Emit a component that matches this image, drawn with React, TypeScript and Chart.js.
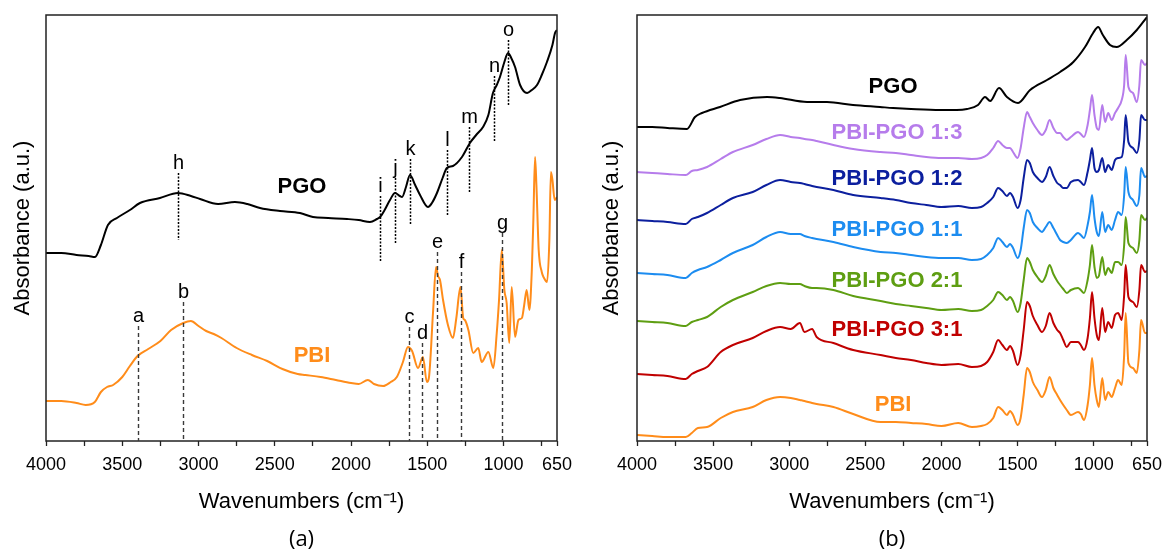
import React, { useEffect, useRef } from 'react';
import { Chart, registerables } from 'chart.js';

Chart.register(...registerables);

const FONT = '"Liberation Sans", Arial, sans-serif';
const CAPTION_FONT = '"Open Sans", "Liberation Sans", sans-serif';

// ---------- shared axis ----------
const X_TICKS = [4000, 3750, 3500, 3250, 3000, 2750, 2500, 2250, 2000, 1750, 1500, 1250, 1000, 750, 650];
const X_TICK_LABELS = [4000, 3500, 3000, 2500, 2000, 1500, 1000, 650];

// ---------- panel (a) ----------
const A_PGO_WN = [4000, 3900, 3800, 3720, 3679, 3640, 3594, 3535, 3450, 3384, 3253, 3135, 3050, 2990, 2872, 2761, 2680, 2597, 2466, 2335, 2250, 2150, 2027, 1950, 1876, 1830, 1810, 1780, 1745, 1712, 1680, 1666, 1640, 1614, 1580, 1548, 1496, 1470, 1437, 1400, 1372, 1332, 1273, 1221, 1180, 1135, 1100, 1070, 1045, 1024, 995, 971, 950, 925, 892, 846, 815, 781, 750, 716, 680, 663, 650];
const A_PGO_ABS = [188, 188, 186, 185, 184, 196, 216, 223, 231, 238, 243, 248, 245, 242, 237, 239, 237, 233, 230, 228, 224, 223, 222, 221, 219, 222, 224, 231, 241, 248, 245, 244, 254, 266, 256, 246, 234, 238, 248, 263, 273, 275, 284, 298, 306, 314, 326, 348, 356, 364, 379, 388, 383, 374, 356, 348, 351, 356, 366, 379, 396, 408, 411];

const A_PBI_WN = [4000, 3900, 3800, 3740, 3680, 3640, 3600, 3560, 3500, 3450, 3400, 3330, 3250, 3180, 3100, 3050, 3000, 2950, 2900, 2850, 2750, 2650, 2550, 2450, 2350, 2300, 2200, 2100, 2000, 1950, 1890, 1850, 1790, 1740, 1700, 1660, 1627, 1600, 1561, 1529, 1503, 1490, 1463, 1443, 1430, 1417, 1397, 1365, 1332, 1310, 1283, 1265, 1254, 1231, 1199, 1166, 1144, 1100, 1067, 1045, 1030, 1012, 995, 980, 963, 947, 925, 903, 880, 865, 849, 831, 815, 805, 794, 785, 770, 750, 735, 715, 700, 690, 680, 665, 650];
const A_PBI_ABS = [40, 40, 38, 36, 39, 49, 54, 56, 64, 75, 85, 92, 100, 111, 118, 120, 115, 110, 107, 103, 93, 86, 80, 72, 67, 66, 64, 61, 58, 57, 61, 57, 55, 59, 64, 79, 94, 90, 73, 84, 59, 63, 128, 174, 165, 161, 141, 116, 103, 123, 154, 123, 121, 111, 88, 93, 79, 89, 73, 108, 141, 191, 151, 138, 98, 154, 104, 121, 123, 136, 151, 131, 171, 221, 284, 256, 191, 169, 163, 159, 201, 269, 261, 241, 244];

const A_PBI_MARK_WN = [3400, 3100, 1618, 1533, 1435, 1281, 1012];
const A_PBI_MARK_LABEL = ['a', 'b', 'c', 'd', 'e', 'f', 'g'];
const A_PBI_MARK_TOP = [115, 139, 114, 98, 189, 169, 208];

const A_PGO_MARK_WN = [3135, 1810, 1712, 1614, 1371, 1227, 1063, 971];
const A_PGO_MARK_LABEL = ['h', 'i', 'j', 'k', 'l', 'm', 'n', 'o'];
const A_PGO_MARK_TOP = [268, 245, 263, 282, 291, 314, 365, 401];
const A_PGO_MARK_BOTTOM = [201, 180, 198, 217, 225, 248, 299, 335];

const A_LABELS = ['PGO', 'PBI'];
const A_LABEL_WN = [2322, 2256];
const A_LABEL_ABS = [254, 85];

// ---------- panel (b) ----------
const B_PGO_WN = [4000, 3900, 3800, 3672, 3619, 3573, 3455, 3323, 3146, 3061, 2883, 2752, 2581, 2404, 2318, 2200, 2009, 1900, 1832, 1760, 1714, 1680, 1622, 1570, 1497, 1418, 1307, 1221, 1134, 1057, 1004, 971, 940, 893, 849, 783, 717, 650];
const B_PGO_ABS = [314, 314, 313, 312, 324, 328, 334, 341, 344, 343, 339, 339, 336, 334, 333, 332, 331, 331, 332, 336, 344, 340, 353, 344, 338, 351, 361, 369, 379, 394, 408, 414, 406, 396, 394, 401, 411, 424];

const B_WN = [4000, 3900, 3800, 3680, 3640, 3600, 3540, 3450, 3370, 3240, 3150, 3060, 2990, 2930, 2900, 2850, 2820, 2710, 2580, 2400, 2300, 2200, 2100, 2000, 1890, 1800, 1740, 1700, 1660, 1628, 1600, 1570, 1550, 1530, 1500, 1480, 1460, 1438, 1420, 1400, 1370, 1340, 1315, 1290, 1265, 1240, 1221, 1200, 1177, 1150, 1103, 1085, 1064, 1040, 1025, 1011, 995, 980, 966, 944, 925, 905, 882, 860, 840, 816, 800, 790, 772, 742, 717, 700, 689, 663, 650];
const B_PBI = [6, 5, 4, 4, 8, 13, 14, 23, 29, 34, 41, 44, 43, 41, 40, 38, 37, 34, 27, 19, 19, 18, 17, 15, 18, 14, 15, 17, 23, 34, 31, 26, 30, 26, 16, 23, 46, 73, 69, 59, 51, 44, 51, 64, 53, 46, 41, 36, 31, 26, 29, 27, 21, 36, 56, 83, 56, 41, 34, 63, 41, 49, 44, 53, 61, 56, 86, 128, 78, 73, 68, 91, 121, 108, 108];
const B_31 = [67, 66, 65, 62, 67, 70, 74, 89, 96, 103, 110, 114, 112, 118, 109, 112, 104, 98, 91, 86, 83, 81, 78, 76, 77, 74, 75, 79, 89, 101, 96, 91, 95, 90, 76, 86, 111, 139, 135, 125, 116, 109, 115, 128, 118, 111, 108, 101, 94, 99, 99, 96, 91, 103, 123, 149, 123, 106, 101, 133, 109, 119, 113, 126, 128, 121, 146, 176, 144, 139, 134, 151, 176, 169, 170];
const B_21 = [120, 119, 118, 115, 119, 121, 124, 134, 141, 149, 155, 158, 157, 157, 155, 153, 153, 151, 145, 140, 137, 135, 133, 131, 132, 130, 131, 135, 141, 149, 146, 141, 144, 140, 129, 138, 161, 183, 179, 171, 164, 159, 165, 176, 167, 160, 156, 152, 148, 151, 153, 151, 148, 161, 176, 196, 174, 163, 165, 184, 166, 173, 168, 179, 179, 176, 196, 224, 198, 193, 188, 201, 226, 221, 223];
const B_11 = [168, 167, 166, 163, 168, 171, 174, 181, 188, 196, 204, 209, 207, 207, 205, 203, 202, 199, 194, 189, 188, 186, 184, 183, 183, 181, 182, 186, 193, 203, 199, 194, 197, 193, 183, 191, 213, 231, 228, 219, 213, 209, 214, 219, 213, 206, 201, 199, 198, 201, 208, 206, 203, 216, 229, 246, 223, 209, 205, 229, 209, 216, 211, 221, 229, 226, 246, 274, 249, 241, 235, 246, 273, 264, 265];
const B_12 = [221, 220, 219, 217, 222, 224, 228, 236, 243, 249, 256, 261, 259, 258, 257, 255, 254, 251, 246, 243, 241, 238, 236, 234, 235, 233, 234, 238, 244, 253, 250, 245, 248, 244, 233, 241, 263, 281, 278, 269, 263, 259, 264, 274, 265, 258, 256, 253, 253, 259, 261, 259, 256, 269, 281, 293, 273, 269, 271, 283, 269, 276, 271, 281, 283, 284, 301, 326, 299, 293, 288, 301, 326, 321, 321];
const B_13 = [269, 268, 267, 266, 270, 271, 274, 282, 289, 296, 302, 306, 304, 303, 302, 301, 300, 296, 292, 289, 288, 286, 284, 283, 283, 282, 283, 286, 293, 300, 296, 293, 293, 289, 283, 293, 313, 329, 324, 318, 311, 306, 311, 321, 313, 308, 308, 304, 301, 304, 309, 307, 304, 316, 331, 346, 326, 313, 311, 336, 319, 328, 321, 328, 333, 341, 356, 386, 354, 348, 339, 356, 381, 376, 378];

const B_LABELS = ['PGO', 'PBI-PGO 1:3', 'PBI-PGO 1:2', 'PBI-PGO 1:1', 'PBI-PGO 2:1', 'PBI-PGO 3:1', 'PBI'];
const B_LABEL_WN = [2318, 2292, 2292, 2292, 2292, 2292, 2318];
const B_LABEL_ABS = [354, 308, 262, 211, 160, 111, 36];

const COLORS = {
  PGO: '#000000',
  PBI: '#FF8C1A',
  r31: '#C00000',
  r21: '#5E9E12',
  r11: '#1C8CF0',
  r12: '#0C1F9E',
  r13: '#B67CEB',
};
const B_LABEL_COLORS = [COLORS.PGO, COLORS.r13, COLORS.r12, COLORS.r11, COLORS.r21, COLORS.r31, COLORS.PBI];

const pts = (wn: number[], ab: number[]) => wn.map((w, i) => ({ x: w, y: ab[i] }));

type Marker = { wn: number; label: string; top: number; bottom: number; dash: number[]; color: string; width: number };
type Label = { text: string; wn: number; ab: number; color: string };

function annotPlugin(markers: Marker[], labels: Label[], caption: string) {
  return {
    id: 'annot',
    afterDatasetsDraw(chart: any) {
      const { ctx, chartArea, scales } = chart;
      const x = scales.x;
      const y = scales.y;
      ctx.save();
      ctx.setLineDash([]);
      ctx.strokeStyle = '#222';
      ctx.lineWidth = 1.5;
      ctx.strokeRect(chartArea.left, chartArea.top, chartArea.right - chartArea.left, chartArea.bottom - chartArea.top);
      for (const m of markers) {
        const px = Math.round(x.getPixelForValue(m.wn)) + 0.5;
        const top = y.getPixelForValue(m.top);
        const bot = y.getPixelForValue(m.bottom);
        ctx.setLineDash(m.dash);
        ctx.strokeStyle = m.color;
        ctx.lineWidth = m.width;
        ctx.beginPath();
        ctx.moveTo(px, top);
        ctx.lineTo(px, bot);
        ctx.stroke();
        ctx.setLineDash([]);
        ctx.fillStyle = '#000';
        ctx.font = `20px ${FONT}`;
        ctx.textAlign = 'center';
        ctx.textBaseline = 'alphabetic';
        ctx.fillText(m.label, px, top - 4);
      }
      for (const l of labels) {
        ctx.fillStyle = l.color;
        ctx.font = `bold 22px ${FONT}`;
        ctx.textAlign = 'center';
        ctx.textBaseline = 'middle';
        ctx.fillText(l.text, x.getPixelForValue(l.wn), y.getPixelForValue(l.ab));
      }
      ctx.fillStyle = '#000';
      ctx.font = `22px ${CAPTION_FONT}`;
      ctx.textAlign = 'center';
      ctx.textBaseline = 'middle';
      ctx.fillText(caption, (chartArea.left + chartArea.right) / 2, 540);
      ctx.restore();
    },
  };
}

function makeConfig(datasets: any[], padLeft: number, padRight: number, yWidth: number, markers: Marker[], labels: Label[], caption: string): any {
  return {
    type: 'line',
    data: { datasets },
    plugins: [annotPlugin(markers, labels, caption)],
    options: {
      responsive: false,
      animation: false,
      devicePixelRatio: 1,
      layout: { padding: { left: padLeft, right: padRight, top: 15, bottom: 37 } },
      plugins: { legend: { display: false }, tooltip: { enabled: false } },
      elements: {
        point: { radius: 0 },
        line: { borderWidth: 2, cubicInterpolationMode: 'monotone' },
      },
      scales: {
        x: {
          type: 'linear',
          reverse: true,
          min: 650,
          max: 4000,
          afterBuildTicks: (s: any) => {
            s.ticks = X_TICKS.map((v) => ({ value: v }));
          },
          afterFit: (s: any) => {
            s.height = 76;
            s.paddingLeft = 0;
            s.paddingRight = 0;
          },
          ticks: {
            autoSkip: false,
            maxRotation: 0,
            minRotation: 0,
            padding: 8,
            color: '#000',
            font: { family: FONT, size: 18 },
            callback: (v: any) => (X_TICK_LABELS.includes(Number(v)) ? String(v) : ''),
          },
          grid: { display: true, drawOnChartArea: false, drawTicks: true, tickLength: 5, tickColor: '#222', tickWidth: 1.3 },
          border: { display: false },
          title: {
            display: true,
            text: 'Wavenumbers (cm\u207B\u00B9)',
            color: '#000',
            font: { family: FONT, size: 22 },
            padding: { top: 4, bottom: 2 },
          },
        },
        y: {
          type: 'linear',
          min: 0,
          max: 426,
          afterFit: (s: any) => {
            s.width = yWidth;
            s.paddingTop = 0;
            s.paddingBottom = 0;
          },
          ticks: { display: false },
          grid: { display: false, drawTicks: false },
          border: { display: false },
          title: {
            display: true,
            text: 'Absorbance (a.u.)',
            color: '#000',
            font: { family: FONT, size: 22 },
            padding: 4,
          },
        },
      },
    },
  };
}

function buildA() {
  const datasets = [
    { label: 'PGO', data: pts(A_PGO_WN, A_PGO_ABS), borderColor: COLORS.PGO },
    { label: 'PBI', data: pts(A_PBI_WN, A_PBI_ABS), borderColor: COLORS.PBI },
  ];
  const markers: Marker[] = [
    ...A_PBI_MARK_WN.map((w, i) => ({ wn: w, label: A_PBI_MARK_LABEL[i], top: A_PBI_MARK_TOP[i], bottom: 0, dash: [4, 3], color: '#3a3a3a', width: 1.4 })),
    ...A_PGO_MARK_WN.map((w, i) => ({ wn: w, label: A_PGO_MARK_LABEL[i], top: A_PGO_MARK_TOP[i], bottom: A_PGO_MARK_BOTTOM[i], dash: [2, 1.5], color: '#000', width: 1.5 })),
  ];
  const labels: Label[] = A_LABELS.map((t, i) => ({ text: t, wn: A_LABEL_WN[i], ab: A_LABEL_ABS[i], color: i === 0 ? COLORS.PGO : COLORS.PBI }));
  return makeConfig(datasets, 6, 25, 40, markers, labels, '(a)');
}

function buildB() {
  const datasets = [
    { label: 'PGO', data: pts(B_PGO_WN, B_PGO_ABS), borderColor: COLORS.PGO },
    { label: 'PBI-PGO 1:3', data: pts(B_WN, B_13), borderColor: COLORS.r13 },
    { label: 'PBI-PGO 1:2', data: pts(B_WN, B_12), borderColor: COLORS.r12 },
    { label: 'PBI-PGO 1:1', data: pts(B_WN, B_11), borderColor: COLORS.r11 },
    { label: 'PBI-PGO 2:1', data: pts(B_WN, B_21), borderColor: COLORS.r21 },
    { label: 'PBI-PGO 3:1', data: pts(B_WN, B_31), borderColor: COLORS.r31 },
    { label: 'PBI', data: pts(B_WN, B_PBI), borderColor: COLORS.PBI },
  ];
  const labels: Label[] = B_LABELS.map((t, i) => ({ text: t, wn: B_LABEL_WN[i], ab: B_LABEL_ABS[i], color: B_LABEL_COLORS[i] }));
  return makeConfig(datasets, 13, 17, 42, [], labels, '(b)');
}

function Panel({ build, left }: { build: () => any; left: number }) {
  const ref = useRef<HTMLCanvasElement>(null);
  useEffect(() => {
    const chart = new Chart(ref.current as HTMLCanvasElement, build());
    return () => chart.destroy();
  }, []);
  return (
    <canvas
      ref={ref}
      width={582}
      height={554}
      style={{ position: 'absolute', left, top: 0, width: 582, height: 554, display: 'block' }}
    />
  );
}

export default function App() {
  return (
    <div style={{ position: 'absolute', left: 0, top: 0, width: 1164, height: 554, background: '#fff', overflow: 'hidden' }}>
      <Panel build={buildA} left={0} />
      <Panel build={buildB} left={582} />
    </div>
  );
}
